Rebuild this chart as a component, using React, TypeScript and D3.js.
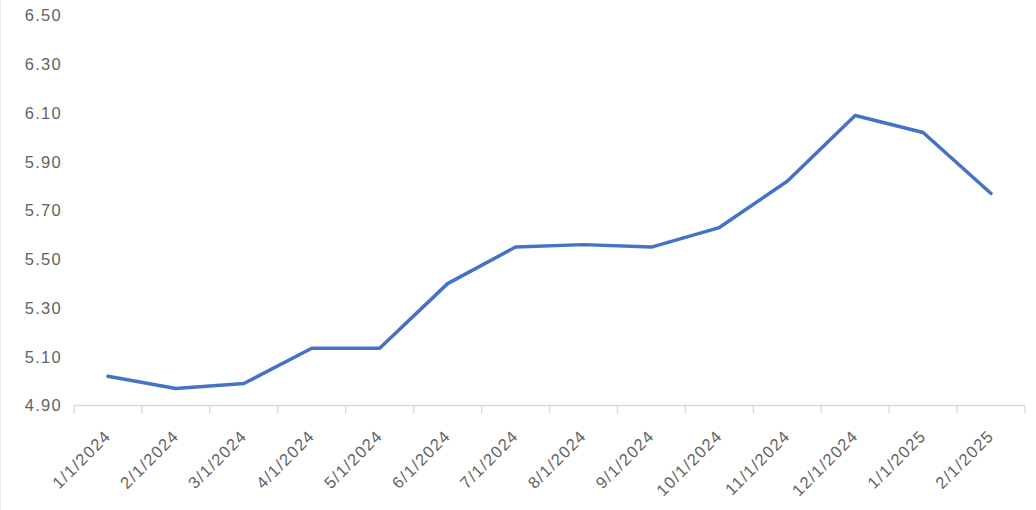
import React from "react";
import * as d3 from "d3";

const categories: string[] = [
  "1/1/2024", "2/1/2024", "3/1/2024", "4/1/2024", "5/1/2024", "6/1/2024", "7/1/2024",
  "8/1/2024", "9/1/2024", "10/1/2024", "11/1/2024", "12/1/2024", "1/1/2025", "2/1/2025",
];
const values: number[] = [5.02, 4.97, 4.99, 5.135, 5.135, 5.40, 5.55, 5.56, 5.55, 5.63, 5.82, 6.09, 6.02, 5.77];
const yTicks: number[] = [4.9, 5.1, 5.3, 5.5, 5.7, 5.9, 6.1, 6.3, 6.5];

const W = 1036;
const H = 510;
const FONT = "'Liberation Sans', Arial, sans-serif";

export default function App() {
  const x = d3.scaleBand<string>().domain(categories).range([74, 1025]).paddingInner(0).paddingOuter(0);
  const y = d3.scaleLinear().domain([4.9, 6.5]).range([405.5, 15.5]);
  const line = d3
    .line<number>()
    .x((_, i) => (x(categories[i]) as number) + x.bandwidth() / 2)
    .y((d) => y(d));
  const axisY = y(4.9);
  const tickXs = categories.map((c) => x(c) as number).concat([1025]);

  return (
    <svg width={W} height={H} style={{ position: "absolute", left: 0, top: 0, background: "#fff" }}>
      <line x1={0.5} x2={0.5} y1={0} y2={H} stroke="#ececec" />
      {yTicks.map((t) => (
        <text
          key={t}
          x={62}
          y={y(t)}
          dy="0.36em"
          textAnchor="end"
          fontFamily={FONT}
          fontSize={16.5}
          letterSpacing={1.3}
          fill="#636363"
        >
          {t.toFixed(2)}
        </text>
      ))}
      <line x1={74} x2={1025} y1={axisY} y2={axisY} stroke="#d9d9d9" strokeWidth={1.3} />
      {tickXs.map((tx, i) => (
        <line key={i} x1={tx} x2={tx} y1={axisY} y2={axisY + 8} stroke="#d9d9d9" strokeWidth={1.3} />
      ))}
      {categories.map((c) => {
        const cx = (x(c) as number) + x.bandwidth() / 2 + 4;
        const cy = 437;
        return (
          <text
            key={c}
            x={cx}
            y={cy}
            textAnchor="end"
            transform={`rotate(-45 ${cx} ${cy})`}
            fontFamily={FONT}
            fontSize={16.5}
            letterSpacing={1.3}
            fill="#636363"
          >
            {c}
          </text>
        );
      })}
      <path d={line(values) || ""} fill="none" stroke="#4472C4" strokeWidth={3.5} strokeLinejoin="round" strokeLinecap="round" />
    </svg>
  );
}
